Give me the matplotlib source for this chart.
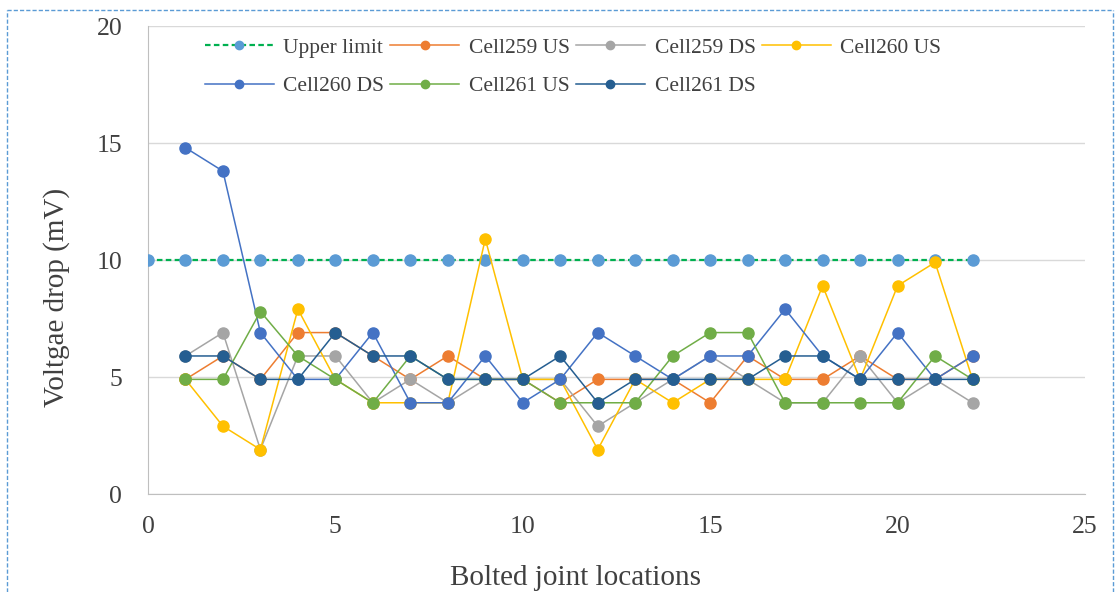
import matplotlib
matplotlib.use("Agg")
from matplotlib import pyplot as plt
from matplotlib.lines import Line2D

# joint locations
limit_x = list(range(0, 23))
limit_y = [10] * 23
joints = list(range(1, 23))

cell259_us = [4.9, 5.9, 4.9, 6.9, 6.9, 5.9, 4.9, 5.9, 4.9, 4.9, 3.9,
              4.9, 4.9, 4.9, 3.9, 5.9, 4.9, 4.9, 5.9, 4.9, 4.9, 5.9]
cell259_ds = [5.9, 6.9, 1.9, 5.9, 5.9, 3.9, 4.9, 3.9, 4.9, 4.9, 4.9,
              2.9, 3.9, 4.9, 5.9, 4.9, 3.9, 3.9, 5.9, 3.9, 4.9, 3.9]
cell260_us = [4.9, 2.9, 1.9, 7.9, 4.9, 3.9, 3.9, 3.9, 10.9, 4.9, 4.9,
              1.9, 4.9, 3.9, 4.9, 4.9, 4.9, 8.9, 4.9, 8.9, 9.9, 4.9]
cell260_ds = [14.8, 13.8, 6.9, 4.9, 4.9, 6.9, 3.9, 3.9, 5.9, 3.9, 4.9,
              6.9, 5.9, 4.9, 5.9, 5.9, 7.9, 5.9, 4.9, 6.9, 4.9, 5.9]
cell261_us = [4.9, 4.9, 7.8, 5.9, 4.9, 3.9, 5.9, 4.9, 4.9, 4.9, 3.9,
              3.9, 3.9, 5.9, 6.9, 6.9, 3.9, 3.9, 3.9, 3.9, 5.9, 4.9]
cell261_ds = [5.9, 5.9, 4.9, 4.9, 6.9, 5.9, 5.9, 4.9, 4.9, 4.9, 5.9,
              3.9, 4.9, 4.9, 4.9, 4.9, 5.9, 5.9, 4.9, 4.9, 4.9, 4.9]

series = [
    ("Cell259 US", cell259_us, "#ED7D31"),
    ("Cell259 DS", cell259_ds, "#A5A5A5"),
    ("Cell260 US", cell260_us, "#FFC000"),
    ("Cell260 DS", cell260_ds, "#4472C4"),
    ("Cell261 US", cell261_us, "#70AD47"),
    ("Cell261 DS", cell261_ds, "#255E91"),
]

plt.rcParams["font.family"] = ["Liberation Serif", "DejaVu Serif"]

fig = plt.figure(figsize=(11.15, 5.92), dpi=100)
ax = fig.add_axes([0.1327, 0.1655, 0.8404, 0.7905])

handles = []
h, = ax.plot(limit_x, limit_y, color="#00B050", linestyle=(0, (2.5, 1.5)),
             linewidth=1.6, marker="o", markersize=8,
             markerfacecolor="#5B9BD5", markeredgecolor="#5B9BD5",
             label="Upper limit", zorder=3)
handles.append(h)
for name, vals, col in series:
    h, = ax.plot(joints, vals, color=col, linewidth=1.1, marker="o",
                 markersize=8, markerfacecolor=col, markeredgecolor=col,
                 label=name, zorder=3)
    handles.append(h)

ax.set_xlim(0, 25)
ax.set_ylim(0, 20)
ax.set_xticks(range(0, 26, 5))
ax.set_yticks(range(0, 21, 5))
ax.yaxis.grid(True, color="#D9D9D9", linewidth=1.0)
ax.set_axisbelow(True)
for s in ["top", "right"]:
    ax.spines[s].set_visible(False)
for s in ["left", "bottom"]:
    ax.spines[s].set_color("#BFBFBF")
ax.tick_params(length=0, labelsize=18.5, colors="#404040")
ax.tick_params(axis="x", pad=16)
ax.tick_params(axis="y", pad=18.5)
ax.set_xlabel("Bolted joint locations", fontsize=21, color="#404040")
ax.set_ylabel("Voltgae drop (mV)", fontsize=21, color="#404040")
ax.xaxis.set_label_coords(0.456, -0.152)
ax.yaxis.set_label_coords(-0.083, 0.421)

# matplotlib fills legend columns first, so reorder to get rows
order = [0, 4, 1, 5, 2, 6, 3]
ax.legend([handles[i] for i in order], [handles[i].get_label() for i in order],
          ncol=4, loc="upper left", bbox_to_anchor=(0.04, 1.016),
          frameon=False, fontsize=15.5, handlelength=3.2, handletextpad=0.45,
          columnspacing=0.28, labelspacing=0.85, markerscale=0.75,
          labelcolor="#404040")

# dashed selection border round the chart
for xs, ys in [([0.006, 0.998], [0.983, 0.983]),
               ([0.006, 0.006], [0.0, 0.983]),
               ([0.998, 0.998], [0.0, 0.983])]:
    fig.add_artist(Line2D(xs, ys, transform=fig.transFigure,
                          color="#5B9BD5", linewidth=1.0,
                          linestyle=(0, (3, 1.5))))

fig.savefig("out.png", dpi=100)
